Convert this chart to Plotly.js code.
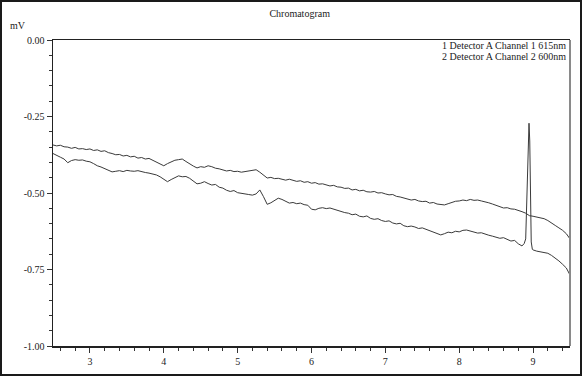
<!DOCTYPE html>
<html><head><meta charset="utf-8">
<script src="https://cdn.plot.ly/plotly-3.0.1.min.js"></script>
<style>
html,body{margin:0;padding:0;background:#fff;}
#chart{width:578px;height:372px;border:2px solid #1a1a1a;}
</style></head>
<body><div id="chart"></div>
<script>
// Channel 1 (upper trace), sampled every 0.05 min from 2.50 to 9.50
var ch1Start = 2.5, ch1Step = 0.05;
var ch1Values = [
-0.343,-0.346,-0.344,-0.349,-0.350,-0.354,-0.351,-0.356,-0.355,-0.358,
-0.356,-0.361,-0.359,-0.364,-0.362,-0.368,-0.371,-0.375,-0.374,-0.379,
-0.377,-0.382,-0.380,-0.386,-0.384,-0.389,-0.387,-0.393,-0.398,-0.405,
-0.411,-0.404,-0.399,-0.393,-0.391,-0.389,-0.397,-0.405,-0.412,-0.418,
-0.414,-0.416,-0.411,-0.414,-0.419,-0.421,-0.425,-0.428,-0.426,-0.430,
-0.429,-0.432,-0.430,-0.428,-0.427,-0.424,-0.432,-0.443,-0.451,-0.449,
-0.453,-0.452,-0.456,-0.458,-0.455,-0.459,-0.462,-0.460,-0.465,-0.463,
-0.468,-0.466,-0.471,-0.470,-0.474,-0.477,-0.475,-0.480,-0.481,-0.485,
-0.484,-0.490,-0.488,-0.493,-0.491,-0.496,-0.497,-0.495,-0.500,-0.499,
-0.503,-0.506,-0.505,-0.511,-0.513,-0.516,-0.520,-0.523,-0.521,-0.526,
-0.528,-0.527,-0.533,-0.531,-0.536,-0.538,-0.539,-0.535,-0.531,-0.527,
-0.526,-0.523,-0.525,-0.521,-0.524,-0.523,-0.526,-0.528,-0.532,-0.536,
-0.541,-0.545,-0.549,-0.548,-0.552,-0.553,-0.556,-0.561,-0.566,-0.574,
-0.576,-0.578,-0.580,-0.584,-0.590,-0.597,-0.606,-0.614,-0.622,-0.633,
-0.650
];
// Channel 2 (lower trace, with the peak near 8.94 min)
var ch2Times = [
2.50,2.55,2.60,2.65,2.70,2.75,2.80,2.85,2.90,2.95,
3.00,3.05,3.10,3.15,3.20,3.25,3.30,3.35,3.40,3.45,
3.50,3.55,3.60,3.65,3.70,3.75,3.80,3.85,3.90,3.95,
4.00,4.05,4.10,4.15,4.20,4.25,4.30,4.35,4.40,4.45,
4.50,4.55,4.60,4.65,4.70,4.75,4.80,4.85,4.90,4.95,
5.00,5.05,5.10,5.15,5.20,5.25,5.30,5.35,5.40,5.45,
5.50,5.55,5.60,5.65,5.70,5.75,5.80,5.85,5.90,5.95,
6.00,6.05,6.10,6.15,6.20,6.25,6.30,6.35,6.40,6.45,
6.50,6.55,6.60,6.65,6.70,6.75,6.80,6.85,6.90,6.95,
7.00,7.05,7.10,7.15,7.20,7.25,7.30,7.35,7.40,7.45,
7.50,7.55,7.60,7.65,7.70,7.75,7.80,7.85,7.90,7.95,
8.00,8.05,8.10,8.15,8.20,8.25,8.30,8.35,8.40,8.45,
8.50,8.55,8.60,8.65,8.70,8.75,8.80,8.85,
8.88,8.90,8.92,8.935,8.945,8.955,8.965,8.975,8.99,
9.00,9.05,9.10,9.15,9.20,9.25,9.30,9.35,9.40,9.45,9.50
];
var ch2Values = [
-0.371,-0.378,-0.383,-0.389,-0.401,-0.394,-0.391,-0.393,-0.392,-0.396,
-0.398,-0.404,-0.411,-0.415,-0.420,-0.426,-0.431,-0.429,-0.427,-0.430,
-0.426,-0.428,-0.429,-0.427,-0.431,-0.433,-0.435,-0.438,-0.441,-0.447,
-0.455,-0.463,-0.456,-0.449,-0.444,-0.447,-0.446,-0.452,-0.462,-0.470,
-0.468,-0.463,-0.469,-0.474,-0.472,-0.481,-0.484,-0.491,-0.495,-0.492,
-0.499,-0.500,-0.503,-0.505,-0.507,-0.503,-0.490,-0.512,-0.537,-0.532,
-0.524,-0.517,-0.521,-0.527,-0.533,-0.531,-0.535,-0.533,-0.538,-0.540,
-0.553,-0.555,-0.550,-0.548,-0.551,-0.549,-0.553,-0.557,-0.559,-0.564,
-0.566,-0.571,-0.569,-0.576,-0.578,-0.575,-0.583,-0.586,-0.584,-0.590,
-0.593,-0.591,-0.598,-0.601,-0.599,-0.607,-0.610,-0.608,-0.611,-0.616,
-0.614,-0.619,-0.624,-0.629,-0.634,-0.637,-0.633,-0.628,-0.630,-0.625,
-0.627,-0.622,-0.621,-0.625,-0.628,-0.631,-0.630,-0.635,-0.638,-0.641,
-0.644,-0.648,-0.646,-0.652,-0.657,-0.655,-0.666,-0.673,
-0.665,-0.650,-0.450,-0.290,-0.272,-0.330,-0.520,-0.660,-0.684,
-0.686,-0.690,-0.693,-0.694,-0.697,-0.704,-0.712,-0.722,-0.733,-0.745,-0.768
];
var yTickVals = [0, -0.25, -0.5, -0.75, -1.0];
var yTickText = ["0.00", "-0.25", "-0.50", "-0.75", "-1.00"];
var xTickVals = [3, 4, 5, 6, 7, 8, 9];
var legendLabels = ["1 Detector A Channel 1 615nm", "2 Detector A Channel 2 600nm"];

var ch1Times = ch1Values.map(function(_, i){ return +(ch1Start + i*ch1Step).toFixed(2); });

var font = {family: "Liberation Serif, Times New Roman, serif", size: 10, color: "#222"};
var traces = [
  {x: ch1Times, y: ch1Values, mode: "lines", line: {color: "#3a3a3a", width: 1}, name: legendLabels[0], hoverinfo: "skip"},
  {x: ch2Times, y: ch2Values, mode: "lines", line: {color: "#3a3a3a", width: 1}, name: legendLabels[1], hoverinfo: "skip"}
];
var layout = {
  width: 578, height: 372,
  margin: {l: 51, r: 10, t: 38, b: 28},
  paper_bgcolor: "#fff", plot_bgcolor: "#fff",
  showlegend: false,
  font: font,
  title: {text: "Chromatogram", font: {family: font.family, size: 10, color: "#222"}, x: 0.515, xanchor: "center", y: 0.97, yanchor: "middle"},
  xaxis: {
    range: [2.5, 9.5], tickvals: xTickVals, ticktext: xTickVals.map(String),
    ticks: "outside", ticklen: 5, tickcolor: "#333", tickwidth: 1,
    minor: {dtick: 0.2, tick0: 2.6, ticks: "outside", ticklen: 3, tickcolor: "#333", showgrid: false},
    showgrid: false, zeroline: false,
    showline: true, linecolor: "#222", linewidth: 1.5, mirror: true,
    tickfont: font
  },
  yaxis: {
    range: [-1.0, 0.0], tickvals: yTickVals, ticktext: yTickText,
    ticks: "outside", ticklen: 5, tickcolor: "#333", tickwidth: 1,
    minor: {dtick: 0.05, tick0: 0, ticks: "outside", ticklen: 3, tickcolor: "#333", showgrid: false},
    showgrid: false, zeroline: false,
    showline: true, linecolor: "#222", linewidth: 1.5, mirror: false,
    tickfont: font
  },
  shapes: [
    {type: "line", xref: "paper", yref: "paper", x0: 1, x1: 1, y0: 0, y1: 1, line: {color: "#8a8a8a", width: 2}}
  ],
  annotations: [
    {text: "mV", xref: "paper", yref: "paper", x: -0.068, y: 1.048, xanchor: "center", yanchor: "middle", showarrow: false, font: font},
    {text: legendLabels[0], xref: "paper", yref: "paper", x: 0.997, y: 0.983, xanchor: "right", yanchor: "middle", showarrow: false, font: font},
    {text: legendLabels[1], xref: "paper", yref: "paper", x: 0.997, y: 0.947, xanchor: "right", yanchor: "middle", showarrow: false, font: font}
  ]
};
Plotly.newPlot("chart", traces, layout, {displayModeBar: false, staticPlot: true});
</script></body></html>
